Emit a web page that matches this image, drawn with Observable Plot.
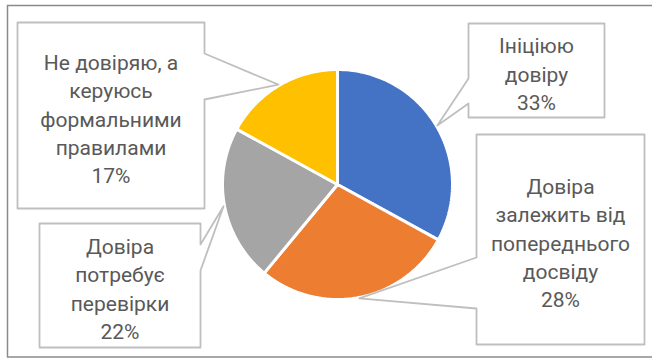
<!DOCTYPE html>
<html>
<head>
<meta charset="utf-8">
<script src="https://cdn.jsdelivr.net/npm/d3@7"></script>
<script src="https://cdn.jsdelivr.net/npm/@observablehq/plot@0.6"></script>
<style>
  html, body { margin: 0; padding: 0; background: #fff; }
  svg { display: block; }
</style>
</head>
<body>
<div id="chart"></div>
<script>
// ---- data ----
const categories = ["Ініціюю довіру", "Довіра залежить від попереднього досвіду", "Довіра потребує перевірки", "Не довіряю, а керуюсь формальними правилами"];
const values = [33, 28, 22, 17];
const labelLines = [
  ["Ініціюю", "довіру"],
  ["Довіра", "залежить від", "попереднього", "досвіду"],
  ["Довіра", "потребує", "перевірки"],
  ["Не довіряю, а", "керуюсь", "формальними", "правилами"]
];
const colors = ["#4472C4", "#ED7D31", "#A5A5A5", "#FFC000"];

// ---- layout ----
const W = 652, H = 358;
const cx = 337, cy = 184, R = 115;
// callout boxes: [x1, y1, x2, y2], pointer side, pointer gap along that side
const boxes = [
  {box: [468, 23, 604, 117], side: "left", gap: [78, 103]},
  {box: [476, 134, 644, 344], side: "left", gap: [257, 308]},
  {box: [39, 223, 200, 347], side: "right", gap: [244, 270]},
  {box: [17, 22, 204, 208], side: "right", gap: [53, 99]}
];

const total = d3.sum(values);
const arcs = d3.pie().sort(null).value(d => d)(values);

// slice polygons
const slicePts = [];
arcs.forEach((a, i) => {
  slicePts.push({name: categories[i], x: cx, y: cy});
  const n = 80;
  for (let k = 0; k <= n; k++) {
    const t = a.startAngle + (a.endAngle - a.startAngle) * k / n;
    slicePts.push({name: categories[i], x: cx + R * Math.sin(t), y: cy - R * Math.cos(t)});
  }
});

// callout polygons
const calloutPts = [];
const texts = [];
arcs.forEach((a, i) => {
  const mid = (a.startAngle + a.endAngle) / 2;
  const tip = [cx + (R + 1) * Math.sin(mid), cy - (R + 1) * Math.cos(mid)];
  const {box: [x1, y1, x2, y2], side, gap: [g1, g2]} = boxes[i];
  let pts;
  if (side === "right") {
    pts = [[x1, y1], [x2, y1], [x2, g1], tip, [x2, g2], [x2, y2], [x1, y2]];
  } else {
    pts = [[x1, y1], [x2, y1], [x2, y2], [x1, y2], [x1, g2], tip, [x1, g1]];
  }
  pts.forEach(p => calloutPts.push({name: categories[i], x: p[0], y: p[1]}));
  const pct = Math.round(values[i] / total * 100) + "%";
  texts.push({x: (x1 + x2) / 2, y: (y1 + y2) / 2 + 2, text: [...labelLines[i], pct].join("\n")});
});

const chart = Plot.plot({
  width: W,
  height: H,
  margin: 0,
  x: {domain: [0, W], range: [0, W], axis: null},
  y: {domain: [0, H], range: [0, H], axis: null},
  color: {domain: categories, range: colors},
  style: {fontFamily: "Roboto, sans-serif", background: "#fff"},
  marks: [
    Plot.frame({stroke: "#8a8a8a", strokeWidth: 1.5, insetLeft: 7, insetTop: 5, insetBottom: 1.5, insetRight: -10}),
    Plot.line(slicePts, {x: "x", y: "y", z: "name", fill: "name", stroke: "white", strokeWidth: 3, strokeLinejoin: "round", curve: "linear-closed"}),
    Plot.line(calloutPts, {x: "x", y: "y", z: "name", fill: "white", stroke: "#BFBFBF", strokeWidth: 1.8, curve: "linear-closed"}),
    Plot.text(texts, {x: "x", y: "y", text: "text", fontSize: 21, lineHeight: 1.35, fill: "#595959", textAnchor: "middle", lineAnchor: "middle"})
  ]
});
document.getElementById("chart").appendChild(chart);
</script>
</body>
</html>
